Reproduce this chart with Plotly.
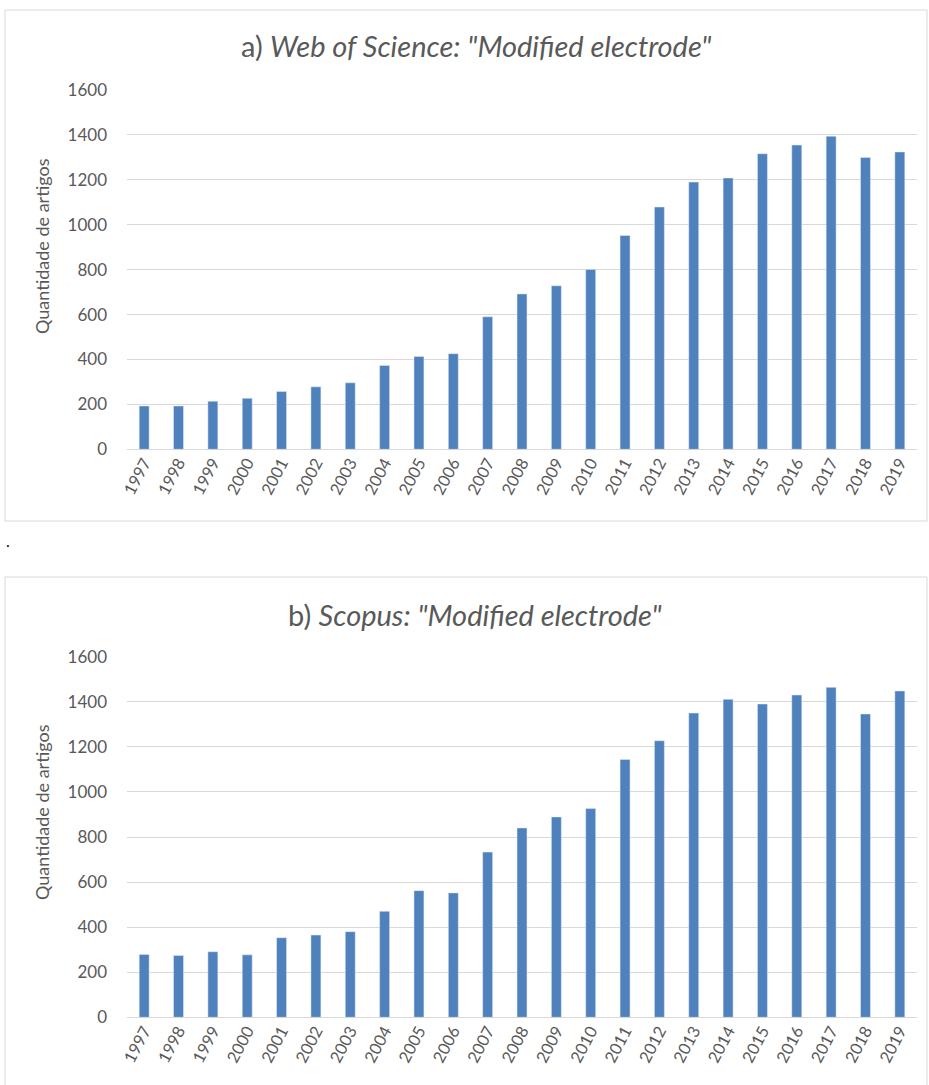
import plotly.graph_objects as go

W, H = 929, 1085

years = [str(y) for y in range(1997, 2020)]
wos_counts = [193, 193, 214, 227, 257, 278, 296, 373, 413, 426, 590, 692,
              728, 801, 952, 1079, 1190, 1208, 1316, 1355, 1394, 1299, 1324]
scopus_counts = [279, 274, 291, 277, 353, 365, 380, 470, 562, 552, 733, 840,
                 889, 926, 1144, 1227, 1350, 1411, 1390, 1430, 1464, 1346, 1448]
title_a = 'a) <i>Web of Science: "Modified electrode"</i>'
title_b = 'b) <i>Scopus: "Modified electrode"</i>'
y_title = "Quantidade de artigos"
y_ticks = [0, 200, 400, 600, 800, 1000, 1200, 1400, 1600]

BAR = "#4F81BD"
GRID = "#D9D9D9"
TXT = "#595959"
FONT = "Lato"

def px_x(p):
    return p / W

def px_y(p):
    return 1 - p / H

fig = go.Figure()
fig.add_trace(go.Bar(x=years, y=wos_counts, marker_color=BAR, xaxis="x", yaxis="y",
                     showlegend=False))
fig.add_trace(go.Bar(x=years, y=scopus_counts, marker_color=BAR, xaxis="x2", yaxis="y2",
                     showlegend=False))

xdom = [px_x(127), px_x(917)]
common_x = dict(domain=xdom, type="category", showgrid=False, showline=False,
                zeroline=False, ticks="", tickangle=-62, automargin=False,
                tickfont=dict(family=FONT, size=16.5, color=TXT))
common_y = dict(range=[0, 1600], tickvals=y_ticks, showgrid=True, gridcolor=GRID,
                gridwidth=1, zeroline=True, zerolinecolor=GRID, zerolinewidth=1,
                showline=False, ticks="", ticklabelstandoff=19, automargin=False,
                tickfont=dict(family=FONT, size=17, color=TXT))

fig.update_layout(
    width=W, height=H,
    autosize=False,
    margin=dict(l=0, r=0, t=0, b=0, pad=0, autoexpand=False),
    paper_bgcolor="white", plot_bgcolor="white",
    bargap=0.71,
    xaxis=dict(anchor="y", **common_x),
    yaxis=dict(anchor="x", domain=[px_y(449.3), px_y(90)], **common_y),
    xaxis2=dict(anchor="y2", **common_x),
    yaxis2=dict(anchor="x2", domain=[px_y(1017.3), px_y(656.7)], **common_y),
    font=dict(family=FONT, color=TXT),
)

# chart boxes
fig.add_shape(type="rect", xref="paper", yref="paper",
              x0=px_x(5), x1=px_x(927), y0=px_y(521), y1=px_y(10),
              line=dict(color=GRID, width=1), fillcolor="rgba(0,0,0,0)", layer="below")
fig.add_shape(type="rect", xref="paper", yref="paper",
              x0=px_x(5), x1=px_x(927), y0=px_y(1095), y1=px_y(577),
              line=dict(color=GRID, width=1), fillcolor="rgba(0,0,0,0)", layer="below")

# titles
fig.add_annotation(text=title_a, xref="paper", yref="paper", x=px_x(476), y=px_y(46),
                   xanchor="center", yanchor="middle", showarrow=False,
                   font=dict(family=FONT, size=29, color=TXT))
fig.add_annotation(text=title_b, xref="paper", yref="paper", x=px_x(475), y=px_y(614),
                   xanchor="center", yanchor="middle", showarrow=False,
                   font=dict(family=FONT, size=29, color=TXT))
# y-axis titles
fig.add_annotation(text=y_title, xref="paper", yref="paper", x=px_x(42), y=px_y(246),
                   xanchor="center", yanchor="middle", showarrow=False, textangle=-90,
                   font=dict(family=FONT, size=18, color=TXT))
fig.add_annotation(text=y_title, xref="paper", yref="paper", x=px_x(42), y=px_y(812),
                   xanchor="center", yanchor="middle", showarrow=False, textangle=-90,
                   font=dict(family=FONT, size=18, color=TXT))
# stray period between charts
fig.add_annotation(text=".", xref="paper", yref="paper", x=px_x(8), y=px_y(540),
                   xanchor="center", yanchor="middle", showarrow=False,
                   font=dict(family=FONT, size=16, color="#000000"))

fig.write_html("out.html",
               config={"displayModeBar": False},
               post_script="document.body.style.margin='0';document.body.style.overflow='hidden';")
